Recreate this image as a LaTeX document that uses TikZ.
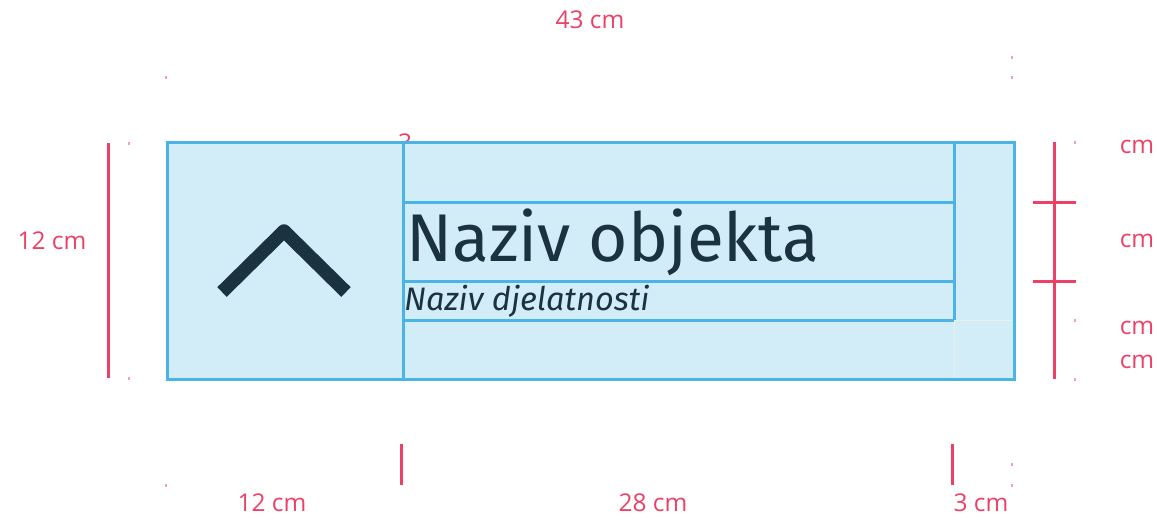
\documentclass[tikz,border=0pt]{standalone}
\usepackage{fontspec}
\setmainfont{Fira Sans}
\newfontfamily\labfont{Open Sans}
\definecolor{boxfill}{HTML}{D2EDF7}
\definecolor{boxline}{HTML}{4AB4E6}
\definecolor{dimred}{HTML}{EC4166}
\definecolor{dimpale}{HTML}{F2A0B3}
\definecolor{ink}{HTML}{1B3340}
\definecolor{faint}{HTML}{EDEFE6}
\tikzset{
  box/.style={draw=boxline, line width=3pt},
  dimline/.style={draw=dimred, line width=3pt},
  remnant/.style={draw=dimpale, line width=1.2pt},
  dimlab/.style={text=dimred, font=\labfont\fontsize{24.5}{26}\selectfont, inner sep=0pt},
}
\begin{document}
\begin{tikzpicture}[x=1pt,y=-1pt]
\useasboundingbox (0,0) rectangle (1157,522);
% clipped label fragment above box
\node[dimlab, anchor=base] (frag) at (405,151) {3};
% main box
\fill[boxfill] (167,142) rectangle (1014,379);
\draw[faint, line width=1pt] (954,320) -- (1014,320);
\draw[faint, line width=1pt] (954,320) -- (954,379);
\draw[box] (403,142) -- (403,379);
\draw[box] (954,142) -- (954,320);
\draw[box] (403,202) -- (954,202);
\draw[box] (403,281) -- (954,281);
\draw[box] (403,320) -- (954,320);
\draw[box] (167,142) rectangle (1014,379);
% chevron
\coordinate (cl) at (222,292);
\coordinate (ct) at (284,231);
\coordinate (cr) at (346,292);
\draw[ink, line width=13.5pt, line join=round] (cl) -- (ct) -- (cr);
% texts
\node[anchor=base west, inner sep=0pt, text=ink, font=\fontsize{67.5}{70}\selectfont] (title) at (406,261) {Naziv objekta};
\node[anchor=base west, inner sep=0pt, text=ink, font=\itshape\fontsize{32.5}{34}\selectfont] (sub) at (404,310) {Naziv djelatnosti};
% dimension lines
\draw[dimline] (108,143) -- (108,378);
\draw[dimline] (1054,142) -- (1054,379);
\draw[dimline] (1033,202) -- (1076,202);
\draw[dimline] (1033,281) -- (1076,281);
\draw[dimline] (401,444) -- (401,485);
\draw[dimline] (952,444) -- (952,485);
% remnants
\foreach \x/\y in {166/77, 129/143, 129/378, 166/485, 1012/57, 1012/77, 1012/464, 1012/485, 1075/142, 1075/320, 1075/379}
  \draw[remnant] (\x,\y-1.5) -- (\x,\y+1.5);
% labels
\node[dimlab] (top) at (590,20) {43 cm};
\node[dimlab] (left) at (52,241) {12 cm};
\node[dimlab] (b1) at (272,503) {12 cm};
\node[dimlab] (b2) at (653,503) {28 cm};
\node[dimlab] (b3) at (981,503) {3 cm};
\node[dimlab] (r1) at (1137,147) {cm};
\node[dimlab] (r2) at (1137,241) {cm};
\node[dimlab] (r3) at (1137,328) {cm};
\node[dimlab] (r4) at (1137,362) {cm};
\end{tikzpicture}
\end{document}
